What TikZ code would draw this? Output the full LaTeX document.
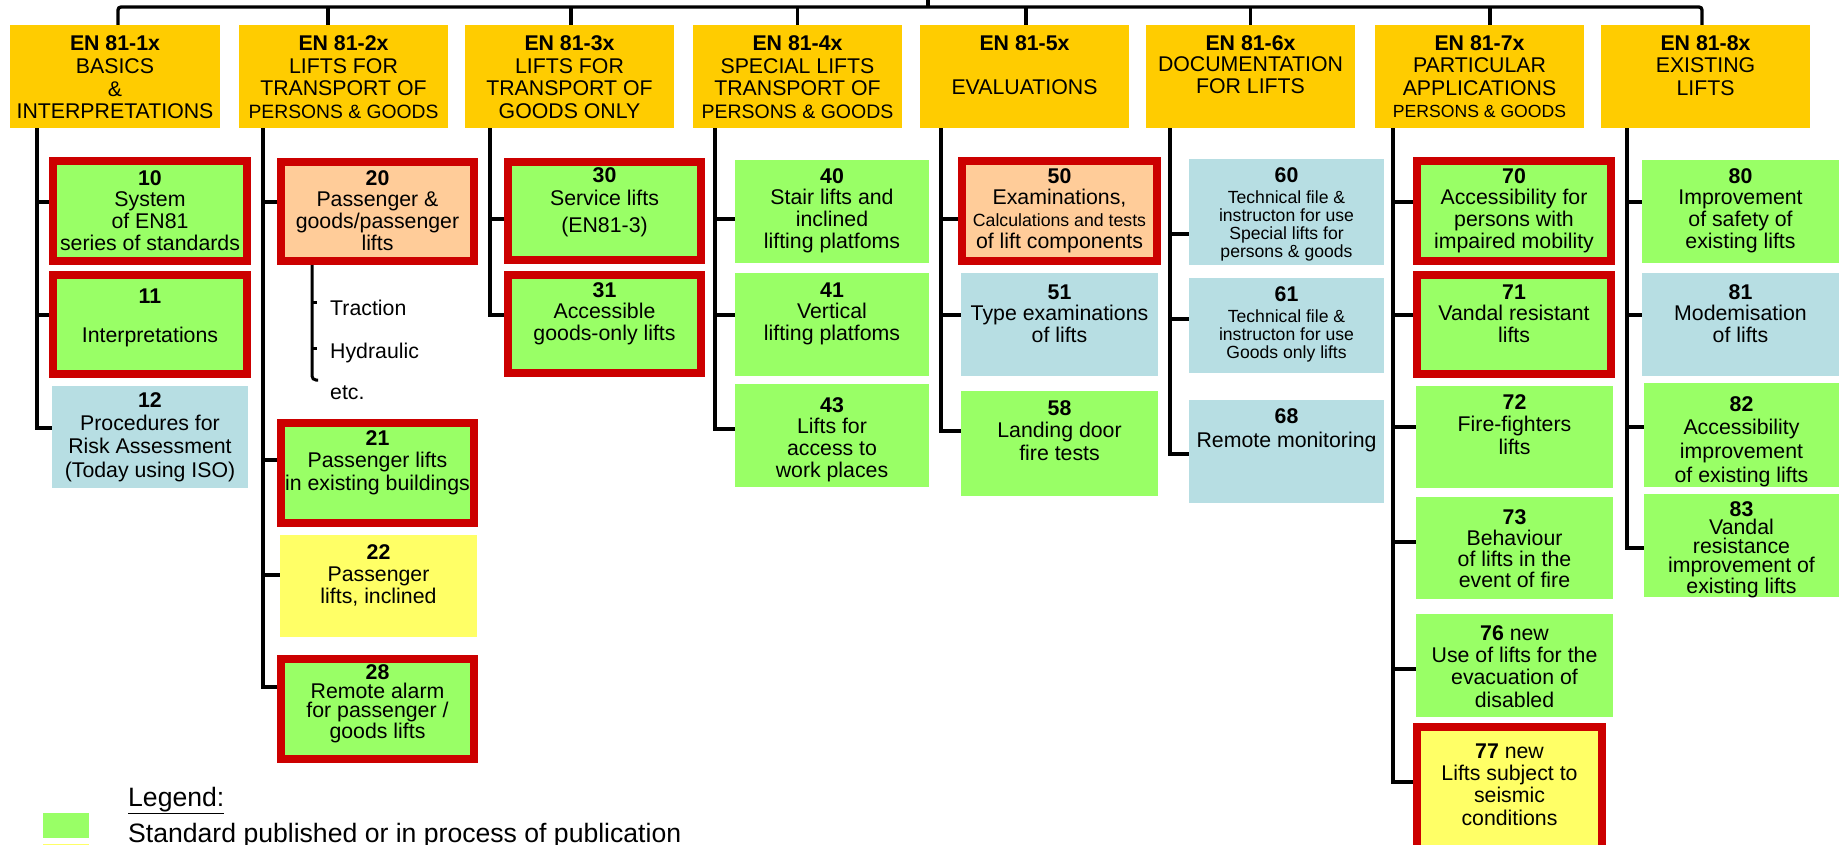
\documentclass[tikz,border=0pt]{standalone}
\usepackage{fontspec}
\setmainfont{Liberation Sans}
\usetikzlibrary{fit,backgrounds}
\definecolor{hdrgold}{HTML}{FFCC00}
\definecolor{pubgreen}{HTML}{99FF66}
\definecolor{draftorange}{HTML}{FFCC99}
\definecolor{newyellow}{HTML}{FFFF66}
\definecolor{planblue}{HTML}{B7DEE3}
\definecolor{markred}{HTML}{CC0000}
\newcommand\fs[2]{\fontsize{#1}{#2}\selectfont}

\begin{document}
\begin{tikzpicture}[x=1pt,y=-1pt,
  area/.style={rectangle, inner sep=0pt, outer sep=0pt},
  hdr/.style={area, fill=hdrgold},
  grn/.style={area, fill=pubgreen},
  org/.style={area, fill=draftorange},
  yel/.style={area, fill=newyellow},
  blu/.style={area, fill=planblue},
  framed/.style={draw=markred, line width=8pt},
  lbl/.style={inner sep=0pt, align=center, font=\fs{21.3}{21.7}},
  conn/.style={draw=black, line width=3.3pt},
  thinconn/.style={draw=black, line width=3pt}]

\clip (0,0) rectangle (1839,845);

% ---------- series headers ----------
\node[hdr, fit={(10,25)(220,128)}]    (h1) {};
\node[hdr, fit={(239,25)(448,128)}]   (h2) {};
\node[hdr, fit={(465,25)(674,128)}]   (h3) {};
\node[hdr, fit={(693,25)(902,128)}]   (h4) {};
\node[hdr, fit={(920,25)(1129,128)}]  (h5) {};
\node[hdr, fit={(1146,25)(1355,128)}] (h6) {};
\node[hdr, fit={(1375,25)(1584,128)}] (h7) {};
\node[hdr, fit={(1601,25)(1810,128)}] (h8) {};

\node[lbl, font=\fs{21.3}{22.6}] (ht1) at (h1.center |- 0,77.5)
  {\textbf{EN 81-1x}\\BASICS\\\&\\INTERPRETATIONS};
\node[lbl, font=\fs{21.3}{22.6}] (ht2) at (h2.center |- 0,77)
  {\textbf{EN 81-2x}\\LIFTS FOR\\TRANSPORT OF\\{\fs{19.3}{22.6}PERSONS \& GOODS}};
\node[lbl, font=\fs{21.3}{22.6}] (ht3) at (h3.center |- 0,77)
  {\textbf{EN 81-3x}\\LIFTS FOR\\TRANSPORT OF\\GOODS ONLY};
\node[lbl, font=\fs{21.3}{22.6}] (ht4) at (h4.center |- 0,77)
  {\textbf{EN 81-4x}\\SPECIAL LIFTS\\TRANSPORT OF\\{\fs{19.5}{22.6}PERSONS \& GOODS}};
\node[lbl, font=\fs{21.3}{22.6}] (ht5) at (h5.center |- 0,65)
  {\textbf{EN 81-5x}\\[21.4pt]EVALUATIONS};
\node[lbl, font=\fs{21.3}{21.5}] (ht6) at (h6.center |- 0,64.5)
  {\textbf{EN 81-6x}\\DOCUMENTATION\\FOR LIFTS};
\node[lbl, font=\fs{21.3}{22.4}] (ht7) at (h7.center |- 0,76.5)
  {\textbf{EN 81-7x}\\PARTICULAR\\APPLICATIONS\\{\fs{17.6}{22.4}PERSONS \& GOODS}};
\node[lbl, font=\fs{21.3}{22.5}] (ht8) at (h8.center |- 0,65.5)
  {\textbf{EN 81-8x}\\EXISTING\\LIFTS};

% ---------- standards: EN 81-1x ----------
\node[grn, framed, fit={(53,161)(247,261)}] (n10) {};
\node[grn, framed, fit={(53,275)(247,374)}] (n11) {};
\node[blu, fit={(52,386)(248,488)}]         (n12) {};
\node[lbl] (t10) at (n10.center |- 0,210.5) {\textbf{10}\\System\\of EN81\\series of standards};
\node[lbl, font=\fs{21.3}{21}] (t11) at (n11.center |- 0,317.5) {\textbf{11}\\[18pt]Interpretations};
\node[lbl, font=\fs{21.3}{23.3}] (t12) at (n12.center |- 0,437)
  {\textbf{12}\\Procedures for\\Risk Assessment\\(Today using ISO)};

% ---------- EN 81-2x ----------
\node[org, framed, fit={(281,162)(474,261)}] (n20) {};
\node[grn, framed, fit={(281,423)(474,523)}] (n21) {};
\node[yel, fit={(280,535)(477,637)}]         (n22) {};
\node[grn, framed, fit={(281,659)(474,759)}] (n28) {};
\node[lbl] (t20) at (n20.center |- 0,210.5) {\textbf{20}\\Passenger \&\\goods/passenger\\lifts};
\node[lbl, font=\fs{21.3}{22.5}] (t21) at (n21.center |- 0,462.5) {\textbf{21}\\Passenger lifts\\in existing buildings};
\node[lbl, font=\fs{21.3}{22}] (t22) at (n22.center |- 0,575) {\textbf{22}\\Passenger\\lifts, inclined};
\node[lbl, font=\fs{21.3}{19}] (t28) at (n28.center |- 0,703.5) {\textbf{28}\\Remote alarm\\for passenger /\\goods lifts};
\node[lbl, anchor=west] (tr) at (330,308) {Traction};
\node[lbl, anchor=west] (hy) at (330,353) {Hydraulic};
\node[lbl, anchor=west] (et) at (330,393) {etc.};

% ---------- EN 81-3x ----------
\node[grn, framed, fit={(508,162)(701,260)}] (n30) {};
\node[grn, framed, fit={(508,275)(701,373)}] (n31) {};
\node[lbl, font=\fs{21.3}{23}] (t30) at (n30.center |- 0,202.5) {\textbf{30}\\Service lifts\\[4pt](EN81-3)};
\node[lbl, font=\fs{21.3}{21.5}] (t31) at (n31.center |- 0,313.5) {\textbf{31}\\Accessible\\goods-only lifts};

% ---------- EN 81-4x ----------
\node[grn, fit={(735,160)(929,263)}] (n40) {};
\node[grn, fit={(735,273)(929,376)}] (n41) {};
\node[grn, fit={(735,384)(929,487)}] (n43) {};
\node[lbl] (t40) at (n40.center |- 0,210.5) {\textbf{40}\\Stair lifts and\\inclined\\lifting platfoms};
\node[lbl, font=\fs{21.3}{21.5}] (t41) at (n41.center |- 0,313.5) {\textbf{41}\\Vertical\\lifting platfoms};
\node[lbl] (t43) at (n43.center |- 0,439.5) {\textbf{43}\\Lifts for\\access to\\work places};

% ---------- EN 81-5x ----------
\node[org, framed, fit={(962,161)(1157,261)}] (n50) {};
\node[blu, fit={(961,273)(1158,376)}] (n51) {};
\node[grn, fit={(961,391)(1158,496)}] (n58) {};
\node[lbl] (t50) at (n50.center |- 0,210.5)
  {\textbf{50}\\Examinations,\\{\fs{17.7}{21.7}Calculations and tests}\\of lift components};
\node[lbl, font=\fs{21.3}{21.5}] (t51) at (n51.center |- 0,313.5) {\textbf{51}\\Type examinations\\of lifts};
\node[lbl, font=\fs{21.3}{22.5}] (t58) at (n58.center |- 0,430.5) {\textbf{58}\\Landing door\\fire tests};

% ---------- EN 81-6x ----------
\node[blu, fit={(1189,159)(1384,265)}] (n60) {};
\node[blu, fit={(1189,278)(1384,373)}] (n61) {};
\node[blu, fit={(1189,400)(1384,503)}] (n68) {};
\node[lbl, font=\fs{17.6}{18}] (t60) at (n60.center |- 0,214.5)
  {{\fs{21.3}{18}\textbf{60}}\\[3pt]Technical file \&\\instructon for use\\Special lifts for\\persons \& goods};
\node[lbl, font=\fs{17.6}{18}] (t61) at (n61.center |- 0,324.5)
  {{\fs{21.3}{18}\textbf{61}}\\[3pt]Technical file \&\\instructon for use\\Goods only lifts};
\node[lbl, font=\fs{21.3}{24}] (t68) at (n68.center |- 0,430) {\textbf{68}\\Remote monitoring};

% ---------- EN 81-7x ----------
\node[grn, framed, fit={(1417,161)(1611,261)}] (n70) {};
\node[grn, framed, fit={(1417,275)(1611,374)}] (n71) {};
\node[grn, fit={(1416,386)(1613,488)}] (n72) {};
\node[grn, fit={(1416,497)(1613,599)}] (n73) {};
\node[grn, fit={(1416,614)(1613,717)}] (n76) {};
\node[yel, framed, fit={(1417,727)(1602,870)}] (n77) {};
\node[lbl] (t70) at (n70.center |- 0,210.5) {\textbf{70}\\Accessibility for\\persons with\\impaired mobility};
\node[lbl, font=\fs{21.3}{21.5}] (t71) at (n71.center |- 0,313.5) {\textbf{71}\\Vandal resistant\\lifts};
\node[lbl, font=\fs{21.3}{22.5}] (t72) at (n72.center |- 0,424.5) {\textbf{72}\\Fire-fighters\\lifts};
\node[lbl, font=\fs{21.3}{21}] (t73) at (n73.center |- 0,548.5) {\textbf{73}\\Behaviour\\of lifts in the\\event of fire};
\node[lbl, font=\fs{21.3}{22.3}] (t76) at (n76.center |- 0,666.5) {\textbf{76} new\\Use of lifts for the\\evacuation of\\disabled};
\node[lbl, font=\fs{21.3}{22.3}] (t77) at (1509.5,784.5) {\textbf{77} new\\Lifts subject to\\seismic\\conditions};

% ---------- EN 81-8x ----------
\node[grn, fit={(1642,160)(1839,263)}] (n80) {};
\node[blu, fit={(1642,273)(1839,376)}] (n81) {};
\node[grn, fit={(1644,383)(1839,487)}] (n82) {};
\node[grn, fit={(1644,494)(1839,597)}] (n83) {};
\node[lbl] (t80) at (n80.center |- 0,210.5) {\textbf{80}\\Improvement\\of safety of\\existing lifts};
\node[lbl, font=\fs{21.3}{21.5}] (t81) at (n81.center |- 0,313.5) {\textbf{81}\\Modemisation\\of lifts};
\node[lbl, font=\fs{21.3}{23.7}] (t82) at (n82.center |- 0,441.5) {\textbf{82}\\Accessibility\\improvement\\of existing lifts};
\node[lbl, font=\fs{21.3}{18.75}] (t83) at (n83.center |- 0,549.5) {\textbf{83}\\Vandal\\resistance\\improvement of\\existing lifts};

% ---------- legend ----------
\node[grn, fit={(43,813)(89,838)}] (lg1) {};
\node[yel, fit={(43,844)(89,870)}] (lg2) {};
\node[lbl, anchor=base west, font=\fs{26.6}{30}] (lgh) at (128,806) {\underline{Legend:}};
\node[lbl, anchor=base west, font=\fs{26.6}{30}] (lgt) at (128,842) {Standard published or in process of publication};

% ---------- connectors ----------
\begin{scope}[on background layer]
  % top bar and stubs down to each series
  \coordinate (bar) at (0,7);
  \coordinate (up) at (928,-5);
  \coordinate (s1) at ([xshift=3pt]h1.north);
  \coordinate (s2) at ([xshift=-15.5pt]h2.north);
  \coordinate (s3) at ([xshift=1.5pt]h3.north);
  \coordinate (s4) at (h4.north);
  \coordinate (s5) at ([xshift=1.5pt]h5.north);
  \coordinate (s6) at (h6.north);
  \coordinate (s7) at ([xshift=10.5pt]h7.north);
  \coordinate (s8) at ([xshift=-3.5pt]h8.north);
  \draw[conn, rounded corners=3pt] (s1) -- (s1 |- bar) -- (s8 |- bar) -- (s8);
  \foreach \s in {s2,s3,s4,s5,s6,s7} \draw[conn] (\s) -- (\s |- bar);
  \draw[conn] (up) -- (up |- bar);

  % trunk tops below each header
  \coordinate (tk1) at ([xshift=27pt]h1.south west);
  \coordinate (tk2) at ([xshift=24pt]h2.south west);
  \coordinate (tk3) at ([xshift=25pt]h3.south west);
  \coordinate (tk4) at ([xshift=22pt]h4.south west);
  \coordinate (tk5) at ([xshift=21pt]h5.south west);
  \coordinate (tk6) at ([xshift=24pt]h6.south west);
  \coordinate (tk7) at ([xshift=18pt]h7.south west);
  \coordinate (tk8) at ([xshift=26pt]h8.south west);

  % branch points on each standard
  \coordinate (b10) at (n10.west |- 0,202);
  \coordinate (b11) at (n11.west |- 0,315);
  \coordinate (b12) at (n12.west |- 0,428);
  \coordinate (b20) at (n20.west |- 0,202);
  \coordinate (b21) at (n21.west |- 0,460);
  \coordinate (b22) at (n22.west |- 0,575);
  \coordinate (b28) at (n28.west |- 0,687);
  \coordinate (b30) at (n30.west |- 0,219);
  \coordinate (b31) at (n31.west |- 0,315);
  \coordinate (b40) at (n40.west |- 0,219);
  \coordinate (b41) at (n41.west |- 0,315);
  \coordinate (b43) at (n43.west |- 0,429);
  \coordinate (b50) at (n50.west |- 0,219);
  \coordinate (b51) at (n51.west |- 0,315);
  \coordinate (b58) at (n58.west |- 0,431);
  \coordinate (b60) at (n60.west |- 0,234);
  \coordinate (b61) at (n61.west |- 0,319);
  \coordinate (b68) at (n68.west |- 0,454);
  \coordinate (b70) at (n70.west |- 0,202);
  \coordinate (b71) at (n71.west |- 0,315);
  \coordinate (b72) at (n72.west |- 0,427);
  \coordinate (b73) at (n73.west |- 0,542);
  \coordinate (b76) at (n76.west |- 0,669);
  \coordinate (b77) at (n77.west |- 0,782);
  \coordinate (b80) at (n80.west |- 0,202);
  \coordinate (b81) at (n81.west |- 0,315);
  \coordinate (b82) at (n82.west |- 0,427);
  \coordinate (b83) at (n83.west |- 0,548);

  % trunks, ending in a corner into the last standard
  \draw[conn] (tk1) |- (b12);
  \draw[conn] (tk2) |- (b28);
  \draw[conn] (tk3) |- (b31);
  \draw[conn] (tk4) |- (b43);
  \draw[conn] (tk5) |- (b58);
  \draw[conn] (tk6) |- (b68);
  \draw[conn] (tk7) |- (b77);
  \draw[conn] (tk8) |- (b83);

  % remaining branches
  \foreach \b/\t in {b10/tk1,b11/tk1,b20/tk2,b21/tk2,b22/tk2,b30/tk3,
                     b40/tk4,b41/tk4,b50/tk5,b51/tk5,b60/tk6,b61/tk6,
                     b70/tk7,b71/tk7,b72/tk7,b73/tk7,b76/tk7,
                     b80/tk8,b81/tk8,b82/tk8}
    \draw[conn] (\b -| \t) -- (\b);

  % drive types listed under standard 20
  \coordinate (k0) at ([xshift=31pt]n20.south west);
  \coordinate (k1) at (318,380);
  \draw[thinconn, rounded corners=4pt] (k0) |- (k1);
  \draw[thinconn] (k0 |- 0,302) -- +(5,0);
  \draw[thinconn] (k0 |- 0,348) -- +(5,0);
\end{scope}
\end{tikzpicture}
\end{document}
